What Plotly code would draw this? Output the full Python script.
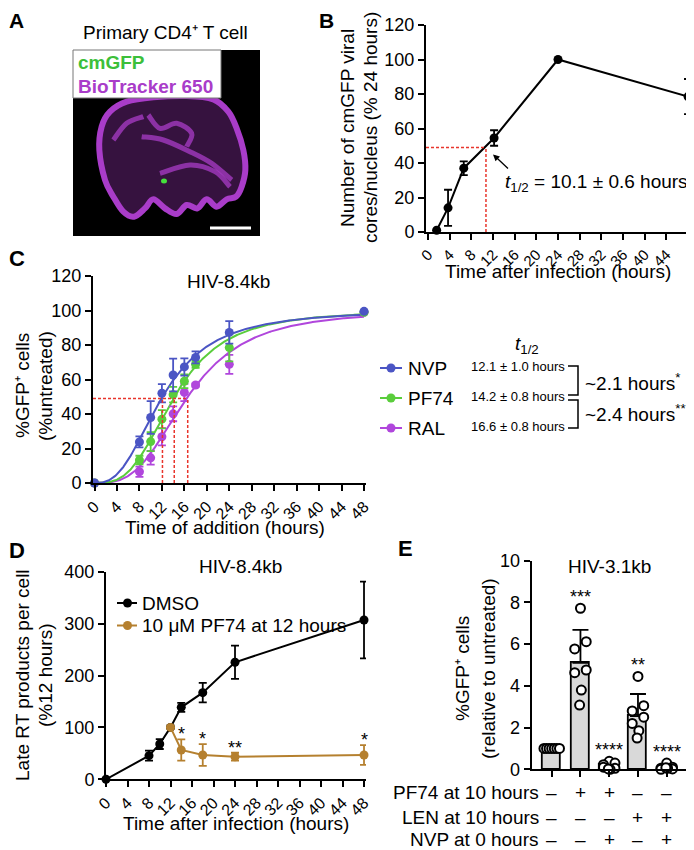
import numpy as np
import plotly.graph_objects as go

W, H = 694, 850          # browser window
OFF = 8                  # default page body margin
FW, FH = W - OFF, H - OFF  # figure size so that it fits inside the window
FONT = "Liberation Sans, Arial, sans-serif"

# ---------------- data ----------------
x_ticks = [0, 4, 8, 12, 16, 20, 24, 28, 32, 36, 40, 44, 48]

# Panel B
b_time = [1.6, 3.7, 6.6, 12.2, 24, 48]
b_value = [1, 14, 37, 54.5, 100, 78.5]
b_error = [0, 10.5, 4, 4.5, 0, 10.2]
b_half_time = 10.7
b_half_level = 49
b_half_label = "10.1 ± 0.6"
b_yticks = [0, 20, 40, 60, 80, 100, 120]

# Panel C
c_time = [0, 8, 10, 12, 14, 16, 18, 24, 48]
c_names = ["NVP", "PF74", "RAL"]
c_nvp = [0, 23.8, 38, 52, 62.6, 67.3, 72.8, 87.3, 99.5]
c_nvp_err = [0, 3.2, 9.5, 5.3, 9.5, 5, 3.5, 6.5, 0]
c_pf74 = [0, 13.3, 24, 37, 51.2, 59, 68.8, 78.5, 99]
c_pf74_err = [0, 2.5, 5.5, 5.3, 4.5, 4, 2, 8, 0]
c_ral = [0, 6.5, 14.6, 26.8, 40.1, 52.5, 56.8, 68.8, 99]
c_ral_err = [0, 3, 4, 5, 4.3, 5, 1, 5.5, 0]
c_half = [12.1, 14.2, 16.6]
c_half_sd = [1.0, 0.8, 0.8]
c_hill = [2.65, 3.1, 3.1]
c_half_level = 49
c_stars = ["*", "**"]

# Panel D
d_time = [0, 8, 10, 12, 14, 18, 24, 48]
d_dmso = [0, 45.5, 68, 100, 138.7, 167, 225.5, 307]
d_dmso_err = [0, 9.6, 9.6, 0, 8.7, 18.7, 32, 74]
d_pf_time = [12, 14, 18, 24, 48]
d_pf = [100, 56.5, 46.8, 43.5, 46.8]
d_pf_err = [0, 20.5, 21, 7.7, 19]
d_pf_stars = ["", "*", "*", "**", "*"]
d_names = ["DMSO", "10 μM PF74 at 12 hours"]
d_yticks = [0, 100, 200, 300, 400]

# Panel E
e_x = [0, 1, 2, 3, 4]
e_mean = [1.0, 5.1, 0.2, 2.55, 0.1]
e_sd = [0, 1.58, 0.12, 1.06, 0]
e_points = [
    [1.0, 1.0, 1.0, 1.0, 1.0, 1.0, 1.0],
    [7.72, 6.12, 5.77, 4.76, 4.63, 3.80, 3.08],
    [0.38, 0.30, 0.22, 0.05, 0.10, 0.0, 0.02],
    [4.45, 3.05, 2.80, 2.50, 2.20, 1.85, 1.50],
    [0.30, 0.10, 0.05, 0.02, 0.0, 0.05, 0.08],
]
e_stars = ["", "***", "****", "**", "****"]
e_rows = ["PF74 at 10 hours", "LEN at 10 hours", "NVP at 0 hours"]
e_table = [["–", "+", "+", "–", "–"],
           ["–", "–", "–", "+", "+"],
           ["–", "–", "+", "–", "+"]]
e_yticks = [0, 2, 4, 6, 8, 10]

# ---------------- style ----------------
C_COLORS = ["#4b55c4", "#5acd3c", "#b046dc"]
D_COLORS = ["black", "#b5802f"]
RED = "#e8352c"
JITTER = [0.0, 0.2, -0.2, 0.2, -0.2, 0.03, -0.03]
JITTER_FLAT = [-0.27, -0.18, -0.09, 0.0, 0.09, 0.18, 0.27]


def px(x):
    """window pixel x -> paper fraction"""
    return (x - OFF) / FW


def py(y):
    """window pixel y -> paper fraction"""
    return 1 - (y - OFF) / FH


def yaxis_style(**kw):
    d = dict(showline=True, linecolor="black", linewidth=2, ticks="outside",
             ticklen=6, tickwidth=2, tickcolor="black", showgrid=False,
             zeroline=False, automargin=False,
             tickfont=dict(size=18, color="black", family=FONT),
             tickmode="array")
    d.update(kw)
    return d


def xaxis_style(**kw):
    d = dict(showline=True, linecolor="black", linewidth=2, ticks="outside",
             ticklen=6, tickwidth=2, tickcolor="black", showgrid=False,
             zeroline=False, automargin=False, tickangle=-45, tickmode="array",
             tickvals=x_ticks, tickfont=dict(size=16, color="black", family=FONT))
    d.update(kw)
    return d


fig = go.Figure()

# ---------------- Panel B ----------------
fig.add_trace(go.Scatter(
    x=b_time, y=b_value, mode="lines+markers", xaxis="x", yaxis="y",
    line=dict(color="black", width=2), marker=dict(size=9, color="black"),
    error_y=dict(type="data", array=b_error, color="black", thickness=1.8, width=4),
    cliponaxis=False, showlegend=False))

# ---------------- Panel C ----------------
c_vals = [c_nvp, c_pf74, c_ral]
c_errs = [c_nvp_err, c_pf74_err, c_ral_err]
tt = np.linspace(0, 48, 300)
for i in [2, 1, 0]:
    fit = 100 * tt ** c_hill[i] / (tt ** c_hill[i] + c_half[i] ** c_hill[i])
    fig.add_trace(go.Scatter(x=tt, y=fit, mode="lines", xaxis="x2", yaxis="y2",
                             line=dict(color=C_COLORS[i], width=2),
                             cliponaxis=False, showlegend=False, hoverinfo="skip"))
for i in [2, 1, 0]:
    fig.add_trace(go.Scatter(
        x=c_time, y=c_vals[i], mode="markers", xaxis="x2", yaxis="y2",
        marker=dict(size=9, color=C_COLORS[i]),
        error_y=dict(type="data", array=c_errs[i], color=C_COLORS[i], thickness=1.8, width=4),
        cliponaxis=False, showlegend=False, name=c_names[i]))

# ---------------- Panel D ----------------
fig.add_trace(go.Scatter(
    x=d_time, y=d_dmso, mode="lines+markers", xaxis="x3", yaxis="y3",
    line=dict(color=D_COLORS[0], width=2), marker=dict(size=9, color=D_COLORS[0]),
    error_y=dict(type="data", array=d_dmso_err, color=D_COLORS[0], thickness=1.8, width=4),
    cliponaxis=False, showlegend=False))
fig.add_trace(go.Scatter(
    x=d_pf_time, y=d_pf, mode="lines+markers", xaxis="x3", yaxis="y3",
    line=dict(color=D_COLORS[1], width=2), marker=dict(size=9, color=D_COLORS[1]),
    error_y=dict(type="data", array=d_pf_err, color=D_COLORS[1], thickness=1.8, width=4),
    cliponaxis=False, showlegend=False))

# ---------------- Panel E ----------------
fig.add_trace(go.Bar(
    x=e_x, y=e_mean, width=0.64, xaxis="x4", yaxis="y4",
    marker=dict(color="#d9d9d9", line=dict(color="black", width=1.8)),
    error_y=dict(type="data", symmetric=False, array=e_sd, arrayminus=[0] * len(e_sd),
                 color="black", thickness=1.8, width=8),
    showlegend=False))
for g, pts in enumerate(e_points):
    jit = JITTER_FLAT if g == 0 else JITTER
    fig.add_trace(go.Scatter(
        x=[e_x[g] + jit[k] for k in range(len(pts))], y=pts, mode="markers",
        xaxis="x4", yaxis="y4",
        marker=dict(size=9, color="white", line=dict(color="black", width=2)),
        cliponaxis=False, showlegend=False))

# ---------------- layout axes ----------------
fig.update_layout(
    template="none",
    width=FW, height=FH, margin=dict(l=0, r=0, t=0, b=0, pad=0, autoexpand=False),
    paper_bgcolor="white", plot_bgcolor="rgba(0,0,0,0)",
    font=dict(family=FONT, color="black", size=18),
    showlegend=False,
    xaxis=xaxis_style(domain=[px(426), px(691)], range=[-0.37, 48.55], anchor="y",
                      tickfont=dict(size=15, color="black", family=FONT)),
    yaxis=yaxis_style(domain=[py(232), py(25)], range=[0, 120], anchor="x", tickvals=b_yticks),
    xaxis2=xaxis_style(domain=[px(93), px(366)], range=[-0.27, 48.35], anchor="y2"),
    yaxis2=yaxis_style(domain=[py(483), py(276)], range=[0, 120], anchor="x2", tickvals=b_yticks),
    xaxis3=xaxis_style(domain=[px(106), px(366)], range=[0, 48.37], anchor="y3"),
    yaxis3=yaxis_style(domain=[py(779.3), py(571.7)], range=[0, 400], anchor="x3", tickvals=d_yticks),
    xaxis4=xaxis_style(domain=[px(531.7), px(688)], range=[-0.696, 4.74], anchor="y4",
                       tickvals=e_x, showticklabels=False, tickangle=0),
    yaxis4=yaxis_style(domain=[py(769.3), py(560.7)], range=[0, 10], anchor="x4", tickvals=e_yticks),
    bargap=0,
)

shapes = []
ann = []


def text(x, y, s, size=19, xanchor="center", yanchor="middle", color="black", angle=0, **kw):
    d = dict(x=px(x), y=py(y), xref="paper", yref="paper", text=s, showarrow=False,
             xanchor=xanchor, yanchor=yanchor, textangle=angle,
             font=dict(size=size, color=color, family=FONT))
    d.update(kw)
    ann.append(d)


def catmull(pts, closed=True):
    P = [(px(x), py(y)) for x, y in pts]
    n = len(P)
    s = f"M {P[0][0]:.5f},{P[0][1]:.5f}"
    rng = range(n) if closed else range(n - 1)
    for i in rng:
        p0 = P[(i - 1) % n] if (closed or i > 0) else P[i]
        p1 = P[i]
        p2 = P[(i + 1) % n]
        p3 = P[(i + 2) % n] if (closed or i + 2 < n) else P[(i + 1) % n]
        c1 = (p1[0] + (p2[0] - p0[0]) / 6, p1[1] + (p2[1] - p0[1]) / 6)
        c2 = (p2[0] - (p3[0] - p1[0]) / 6, p2[1] - (p3[1] - p1[1]) / 6)
        s += f" C {c1[0]:.5f},{c1[1]:.5f} {c2[0]:.5f},{c2[1]:.5f} {p2[0]:.5f},{p2[1]:.5f}"
    if closed:
        s += " Z"
    return s


def z(points):
    return [(60 + a / 3, 40 + b / 3) for a, b in points]


# ---------------- Panel A (micrograph sketch) ----------------
shapes.append(dict(type="rect", xref="paper", yref="paper", x0=px(73), x1=px(260),
                   y0=py(236), y1=py(50), fillcolor="black", line=dict(width=0)))
nucleus = z([(118, 330), (125, 260), (150, 215), (200, 185), (280, 172), (380, 168), (460, 178),
             (505, 215), (530, 265), (550, 330), (556, 390), (545, 440), (528, 470), (500, 478),
             (470, 500), (440, 478), (412, 505), (380, 495), (350, 522), (315, 505), (280, 478),
             (255, 505), (222, 530), (190, 515), (160, 470), (135, 420)])
shapes.append(dict(type="path", xref="paper", yref="paper", path=catmull(nucleus),
                   fillcolor="rgba(120,40,140,0.45)", line=dict(color="#a93cc9", width=6)))
for fold in [
    [(245, 290), (310, 300), (390, 335), (455, 370), (515, 420)],
    [(265, 225), (300, 265), (350, 250), (395, 280), (380, 320)],
    [(300, 400), (390, 375), (465, 395), (510, 440)],
    [(160, 300), (200, 250), (250, 230)],
]:
    shapes.append(dict(type="path", xref="paper", yref="paper", path=catmull(z(fold), closed=False),
                       line=dict(color="rgba(170,60,200,0.75)", width=5)))
shapes.append(dict(type="circle", xref="paper", yref="paper", x0=px(161), x1=px(167),
                   y0=py(183.5), y1=py(178.5), fillcolor="#45e03c", line=dict(width=0)))
shapes.append(dict(type="rect", xref="paper", yref="paper", x0=px(73), x1=px(221),
                   y0=py(98), y1=py(50), fillcolor="white", line=dict(color="#777", width=1)))
shapes.append(dict(type="line", xref="paper", yref="paper", x0=px(210), x1=px(251),
                   y0=py(228), y1=py(228), line=dict(color="white", width=3)))
text(76, 63, "<b>cmGFP</b>", size=19, xanchor="left", color="#3cbf3a")
text(76, 87, "<b>BioTracker 650</b>", size=19, xanchor="left", color="#a93cc9")
text(165, 33, "Primary CD4⁺ T cell", size=19)

# ---------------- panel letters ----------------
for L, x, y in [("A", 8, 8), ("B", 318, 8)]:
    text(x, y, f"<b>{L}</b>", size=21, xanchor="left", yanchor="top", borderpad=0)
for L, x, y in [("C", 8, 258), ("D", 8, 550), ("E", 397, 548)]:
    text(x, y, f"<b>{L}</b>", size=22, xanchor="left", borderpad=0)

# ---------------- Panel B annotations ----------------
shapes.append(dict(type="line", xref="x", yref="y", x0=-0.37, x1=b_half_time,
                   y0=b_half_level, y1=b_half_level, line=dict(color=RED, width=1.5, dash="3px,2px")))
shapes.append(dict(type="line", xref="x", yref="y", x0=b_half_time, x1=b_half_time,
                   y0=0, y1=b_half_level, line=dict(color=RED, width=1.5, dash="3px,2px")))
ann.append(dict(x=12.0, y=45, xref="x", yref="y", ax=18, ay=17, text=" ", showarrow=True,
                arrowhead=2, arrowsize=1, arrowwidth=1.3, arrowcolor="black",
                font=dict(size=10, family=FONT)))
text(503, 183, f"<i>t</i><sub>1/2</sub> = {b_half_label} hours", size=19, xanchor="left")
text(347, 128, "Number of cmGFP viral", size=19, angle=-90)
text(370, 128, "cores/nucleus (% 24 hours)", size=19, angle=-90)
text(558, 272, "Time after infection (hours)", size=19)

# ---------------- Panel C annotations ----------------
shapes.append(dict(type="line", xref="x2", yref="y2", x0=-0.27, x1=c_half[2],
                   y0=c_half_level, y1=c_half_level, line=dict(color=RED, width=1.5, dash="3px,2px")))
for h in c_half:
    shapes.append(dict(type="line", xref="x2", yref="y2", x0=h, x1=h, y0=0, y1=c_half_level,
                       line=dict(color=RED, width=1.5, dash="3px,2px")))
text(228, 281, "HIV-8.4kb", size=19)
text(23, 386, "%GFP⁺ cells", size=19, angle=-90)
text(46, 386, "(%untreated)", size=19, angle=-90)
text(225, 527, "Time of addition (hours)", size=19)
# legend
text(527, 345, "<i>t</i><sub>1/2</sub>", size=19)
for i, name in enumerate(c_names):
    yy = 368 + 30 * i
    shapes.append(dict(type="line", xref="paper", yref="paper", x0=px(380), x1=px(402),
                       y0=py(yy), y1=py(yy), line=dict(color=C_COLORS[i], width=2)))
    shapes.append(dict(type="circle", xref="paper", yref="paper", x0=px(386.5), x1=px(395.5),
                       y0=py(yy + 4.5), y1=py(yy - 4.5), fillcolor=C_COLORS[i], line=dict(width=0)))
    text(406, yy, name, size=19, xanchor="left")
    text(567, yy - 2, f"{c_half[i]:.1f} ± {c_half_sd[i]:.1f} hours", size=13, xanchor="right")
for y0, y1 in [(366, 395), (400, 428)]:
    shapes.append(dict(type="path", xref="paper", yref="paper",
                       path=f"M {px(568)},{py(y0)} L {px(578)},{py(y0)} L {px(578)},{py(y1)} L {px(568)},{py(y1)}",
                       line=dict(color="black", width=1.5)))
for k in range(2):
    diff = c_half[k + 1] - c_half[k]
    text(583, 382 + 31 * k, f"~{diff:.1f} hours<sup>{c_stars[k]}</sup>", size=19, xanchor="left")

# ---------------- Panel D annotations ----------------
text(241, 566, "HIV-8.4kb", size=19)
text(22, 675, "Late RT products per cell", size=19, angle=-90)
text(45, 675, "(%12 hours)", size=19, angle=-90)
text(236, 823, "Time after infection (hours)", size=19)
for i, name in enumerate(d_names):
    yy = 603 + 22.5 * i
    shapes.append(dict(type="line", xref="paper", yref="paper", x0=px(117), x1=px(137),
                       y0=py(yy), y1=py(yy), line=dict(color=D_COLORS[i], width=2)))
    shapes.append(dict(type="circle", xref="paper", yref="paper", x0=px(123), x1=px(132),
                       y0=py(yy + 4.5), y1=py(yy - 4.5), fillcolor=D_COLORS[i], line=dict(width=0)))
    text(140, yy, name, size=19, xanchor="left")
for t, v, e, s in zip(d_pf_time, d_pf, d_pf_err, d_pf_stars):
    if s:
        ann.append(dict(x=t, y=v + e, xref="x3", yref="y3", text=s, showarrow=False,
                        yanchor="bottom", yshift=-7, font=dict(size=18, family=FONT, color="black")))

# ---------------- Panel E annotations ----------------
text(609, 566, "HIV-3.1kb", size=19)
text(462, 669, "%GFP⁺ cells", size=19, angle=-90)
text(488, 669, "(relative to untreated)", size=19, angle=-90)
for g, s in enumerate(e_stars):
    if s:
        ann.append(dict(x=e_x[g], y=max(e_points[g]), xref="x4", yref="y4", text=s, showarrow=False,
                        yanchor="bottom", yshift=-1, font=dict(size=18, family=FONT, color="black")))
row_y = [792, 817, 839]
for r, label in enumerate(e_rows):
    text(540, row_y[r], label, size=19, xanchor="right", borderpad=0)
    for c, sym in enumerate(e_table[r]):
        ann.append(dict(x=e_x[c], y=py(row_y[r]), xref="x4", yref="paper", text=sym, showarrow=False,
                        xanchor="center", yanchor="middle", borderpad=0,
                        font=dict(size=19, family=FONT, color="black")))

fig.update_layout(shapes=shapes, annotations=ann)
fig.write_html("out.html")
